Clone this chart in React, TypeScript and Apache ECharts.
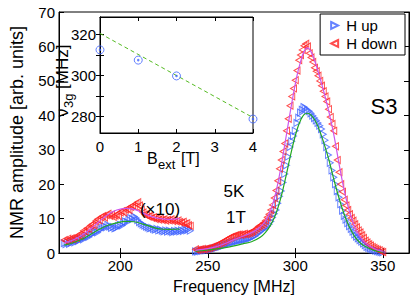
import React, { useEffect, useRef } from "react";
import * as echarts from "echarts";

// ---------- main panel data ----------
const freqLeft = [
  168, 169, 170, 171, 172, 173, 174, 175, 176, 177, 178, 179, 180, 181, 182, 183, 184, 185, 186, 187,
  188, 189, 190, 191, 192, 193, 194, 195, 196, 197, 198, 199, 200, 201, 202, 203, 204, 205, 206, 207,
  208, 209, 210, 211, 212, 213, 214, 215, 216, 217, 218, 219, 220, 221, 222, 223, 224, 225, 226, 227,
  228, 229, 230, 231, 232, 233, 234, 235, 236, 237, 238, 239, 240,
];
const downLeft = [
  3.8, 3.5, 4.2, 3.9, 4.3, 4.0, 4.6, 4.4, 5.2, 5.0, 5.8, 6.5, 6.2, 7.2, 7.0, 8.0, 8.4, 8.0, 9.3, 9.8,
  9.5, 10.4, 10.8, 10.3, 11.0, 11.4, 10.8, 11.2, 10.5, 10.9, 11.3, 10.8, 11.8, 12.2, 11.8, 12.6, 12.9, 12.5, 13.4, 13.8,
  13.5, 14.3, 14.8, 13.8, 12.6, 11.8, 11.2, 11.0, 10.6, 10.8, 10.2, 10.4, 9.9, 10.1, 9.7, 10.0, 9.6, 9.8, 9.4, 9.7,
  9.5, 9.8, 9.3, 9.6, 9.2, 9.5, 9.0, 8.8, 9.1, 8.5, 8.7, 8.1, 7.9,
];
const upLeft = [
  2.9, 2.6, 3.1, 2.7, 3.0, 3.3, 3.1, 3.6, 3.5, 3.9, 4.2, 4.0, 4.6, 4.9, 4.7, 5.3, 5.5, 5.9, 6.2, 6.0,
  6.6, 7.0, 7.3, 7.8, 7.5, 8.2, 7.7, 7.3, 7.6, 7.2, 7.4, 7.8, 8.2, 8.0, 8.7, 9.2, 9.0, 9.7, 10.2, 9.9,
  10.6, 10.2, 9.6, 9.0, 8.6, 8.3, 8.0, 7.7, 7.5, 7.2, 7.3, 7.0, 6.8, 7.0, 6.6, 6.8, 6.5, 6.3, 6.6, 6.2,
  6.5, 6.3, 6.1, 6.4, 6.2, 6.5, 6.3, 6.6, 6.4, 6.8, 6.6, 6.9, 6.5,
];
const freqRight = [
  243, 244, 245, 246, 247, 248, 249, 250, 251, 252, 253, 254, 255, 256, 257, 258, 259, 260, 261, 262,
  263, 264, 265, 266, 267, 268, 269, 270, 271, 272, 273, 274, 275, 276, 277, 278, 279, 280, 281, 282,
  283, 284, 285, 286, 287, 288, 289, 290, 291, 292, 293, 294, 295, 296, 297, 298, 299, 300, 301, 302,
  303, 304, 305, 306, 307, 308, 309, 310, 311, 312, 313, 314, 315, 316, 317, 318, 319, 320, 321, 322,
  323, 324, 325, 326, 327, 328, 329, 330, 331, 332, 333, 334, 335, 336, 337, 338, 339, 340, 341, 342,
  343, 344, 345, 346, 347, 348, 349, 350,
];
const downRight = [
  1.1, 0.9, 1.0, 1.1, 1.2, 1.1, 1.3, 1.4, 1.5, 1.7,
  1.9, 2.1, 2.3, 2.6, 2.9, 3.1, 3.4, 3.7, 4.0, 4.3,
  4.6, 4.8, 5.0, 5.2, 5.3, 5.4, 5.3, 5.5, 5.6, 5.5,
  5.7, 5.9, 6.1, 6.4, 6.8, 7.2, 7.7, 8.0, 8.3, 8.8,
  9.5, 10.4, 11.3, 12.5, 14.0, 16.0, 18.2, 21.0, 24.5, 27.0,
  29.5, 31.8, 35.5, 39.0, 42.8, 45.5, 47.8, 50.2, 53.0, 56.0,
  57.5, 59.0, 60.2, 60.8, 60.0, 58.0, 56.8, 55.5, 53.8, 52.8,
  51.5, 50.0, 48.6, 47.0, 45.5, 44.0, 41.8, 39.5, 37.5, 35.5,
  31.0, 27.0, 23.5, 20.0, 17.8, 15.5, 13.8, 12.5, 11.3, 10.2,
  9.4, 8.4, 7.5, 6.6, 6.0, 5.2, 4.4, 3.6, 3.1, 2.6,
  2.2, 1.8, 1.5, 1.2, 1.0, 0.8, 0.5, 0.3,
];
const upRight = [
  0.5, 0.4, 0.6, 0.6, 0.7, 0.8, 0.8, 0.9, 1.0, 1.1,
  1.2, 1.4, 1.5, 1.7, 1.8, 2.0, 2.2, 2.4, 2.6, 2.8,
  2.9, 3.1, 3.2, 3.3, 3.5, 3.6, 3.7, 3.8, 3.9, 4.0,
  4.2, 4.3, 4.5, 4.8, 5.0, 5.4, 5.8, 6.2, 6.6, 7.0,
  7.4, 7.8, 8.4, 9.2, 10.3, 11.4, 12.5, 14.5, 16.5, 18.0,
  20.5, 23.0, 25.5, 28.0, 30.8, 32.5, 34.0, 35.5, 37.8, 39.3,
  40.8, 41.6, 42.4, 42.0, 41.5, 41.2, 40.6, 39.9, 39.2, 38.5,
  37.8, 37.0, 36.0, 34.5, 32.8, 30.8, 28.5, 26.2, 24.0, 22.0,
  20.0, 18.0, 16.2, 14.2, 12.3, 10.8, 9.7, 8.7, 7.8, 7.0,
  6.2, 5.4, 4.8, 4.3, 3.8, 3.3, 2.8, 2.3, 1.8, 1.5,
  1.3, 1.1, 0.9, 0.7, 0.6, 0.4, 0.3, 0.2,
];

// fit curves
const fitLeftF = [168, 173, 178, 183, 188, 193, 198, 203, 208, 213, 218, 223, 228, 234];
const fitUpLeft = [2.3, 3.0, 4.0, 5.4, 6.9, 8.1, 8.8, 9.2, 9.1, 8.4, 7.6, 7.0, 6.9, 7.0];
const fitDownLeft = [3.0, 3.8, 5.2, 7.0, 9.2, 11.2, 12.5, 13.0, 12.7, 11.6, 10.6, 10.0, 9.8, 10.0];
const fitRightF = [
  243, 246, 250, 255, 260, 265, 270, 275, 280, 283, 286, 289, 292, 295, 298, 301, 303, 305, 307,
  309, 311, 313, 316, 319, 322, 325, 328, 331, 334, 337, 340, 345, 350,
];
const fitUpRight = [
  0.5, 0.7, 0.9, 1.2, 1.6, 2.1, 2.7, 3.3, 4.6, 6.0, 8.2, 11.5, 16.5, 23, 30, 35.8, 38.5, 40.2, 40.6,
  40.1, 38.8, 36.8, 32.5, 27.5, 21.5, 16, 11.2, 7.5, 4.8, 3.0, 1.9, 0.8, 0.3,
];
const fitDownRight = [
  0.8, 1.0, 1.3, 1.9, 2.8, 3.9, 4.9, 5.9, 7.6, 9.4, 12.5, 17.8, 25.5, 34.5, 43.5, 51.5, 55.5, 58.5, 59.6,
  58.5, 56, 52.8, 47.5, 41.5, 34.5, 26, 18.2, 12, 7.6, 4.8, 3.0, 1.3, 0.5,
];
const mainXTicks = [200, 250, 300, 350];

// ---------- inset data ----------
const bField = [0, 1, 2, 4];
const nu3g = [312.5, 307.5, 299.8, 278.8];
const fitB = [0, 4];
const fitNu = [320.5, 279.5];
const insetYTicks = [280, 290, 300, 310, 320];
const insetYLabels = [280, 300, 320];

const pairs = (xs: number[], ys: number[]) => xs.map((x, i) => [x, ys[i]]);

const FONT = "Liberation Sans, Arial, Helvetica, sans-serif";
const BLUE = "#3f63ff";
const RED = "#ff2020";
const GREEN = "#22a822";
const MAGENTA = "#cc55ee";
const RIGHT_TRI = "path://M0,0L8,4L0,8Z";
const LEFT_TRI = "path://M8,0L0,4L8,8Z";

const txt = (text: string, x: number, y: number, fontSize: number, align = "center") => ({
  type: "text",
  x,
  y,
  z: 10,
  style: {
    text,
    fontSize,
    fontFamily: FONT,
    fill: "#000",
    align,
    verticalAlign: "middle",
    textAlign: align,
    textVerticalAlign: "middle",
  },
});

export default function App() {
  const ref = useRef<HTMLDivElement>(null);
  useEffect(() => {
    if (!ref.current) return;
    const chart = echarts.init(ref.current, undefined, { renderer: "svg" });
    const tickStyle = { lineStyle: { color: "#000", width: 1 } };
    const lbl = { color: "#000", fontSize: 15, fontFamily: FONT };
    const mainX = (pos: "bottom" | "top", labels: boolean) => ({
      type: "value",
      gridIndex: 0,
      position: pos,
      min: 165,
      max: 365,
      axisLine: { show: true, lineStyle: { color: "#000" } },
      axisTick: { show: true, inside: true, length: 5, customValues: mainXTicks, ...tickStyle },
      axisLabel: { show: labels, customValues: mainXTicks, margin: 5, ...lbl },
      splitLine: { show: false },
      ...(labels
        ? {
            name: "Frequency [MHz]",
            nameLocation: "middle",
            nameGap: 24,
            nameTextStyle: { color: "#000", fontSize: 16, fontFamily: FONT },
          }
        : {}),
    });
    const mainY = (pos: "left" | "right", labels: boolean) => ({
      type: "value",
      gridIndex: 0,
      position: pos,
      min: 0,
      max: 70,
      interval: 10,
      axisLine: { show: true, lineStyle: { color: "#000" } },
      axisTick: { show: true, inside: true, length: 5, ...tickStyle },
      axisLabel: { show: labels, margin: 4, ...lbl },
      splitLine: { show: false },
      ...(labels
        ? {
            name: "NMR amplitude [arb. units]",
            nameLocation: "middle",
            nameGap: 33,
            nameTextStyle: { color: "#000", fontSize: 18, fontFamily: FONT },
          }
        : {}),
    });
    const insetX = (pos: "bottom" | "top", labels: boolean) => ({
      type: "value",
      gridIndex: 1,
      position: pos,
      min: 0,
      max: 4,
      interval: 1,
      z: 6,
      axisLine: { show: true, lineStyle: { color: "#000" } },
      axisTick: { show: true, inside: true, length: 4, ...tickStyle },
      axisLabel: { show: labels, margin: 6, ...lbl },
      splitLine: { show: false },
    });
    const insetY = (pos: "left" | "right", labels: boolean) => ({
      type: "value",
      gridIndex: 1,
      position: pos,
      min: 272,
      max: 328.5,
      z: 6,
      axisLine: { show: true, lineStyle: { color: "#000" } },
      axisTick: { show: true, inside: true, length: 4, customValues: insetYTicks, ...tickStyle },
      axisLabel: { show: labels, customValues: insetYLabels, margin: 4, ...lbl },
      splitLine: { show: false },
    });
    const scatterStyle = (c: string) => ({
      color: "rgba(0,0,0,0)",
      borderColor: c,
      borderWidth: 1,
    });
    const fitLine = (name: string, xs: number[], ys: number[], c: string) => ({
      type: "line",
      name,
      xAxisIndex: 0,
      yAxisIndex: 0,
      data: pairs(xs, ys),
      smooth: 0.4,
      showSymbol: false,
      symbol: "none",
      lineStyle: { color: c, width: 1.2 },
      z: 4,
    });
    const option: any = {
      animation: false,
      backgroundColor: "#fff",
      textStyle: { fontFamily: FONT },
      grid: [
        { left: 45, top: 12, right: 6, bottom: 38, show: true, borderColor: "#000", borderWidth: 1, z: 0 },
        {
          left: 100,
          top: 17,
          width: 153,
          height: 116,
          show: true,
          borderColor: "#000",
          borderWidth: 1,
          backgroundColor: "#fff",
          z: 5,
        },
      ],
      xAxis: [mainX("bottom", true), mainX("top", false), insetX("bottom", true), insetX("top", false)],
      yAxis: [mainY("left", true), mainY("right", false), insetY("left", true), insetY("right", false)],
      legend: {
        data: ["H up", "H down"],
        orient: "vertical",
        right: 10,
        top: 14,
        itemWidth: 7,
        itemHeight: 8,
        itemGap: 3,
        padding: [4, 8, 4, 10],
        backgroundColor: "#fff",
        borderColor: "#000",
        borderWidth: 1,
        borderRadius: 0,
        textStyle: { color: "#000", fontSize: 15, fontFamily: FONT, padding: [0, 0, 0, 3] },
        z: 20,
      },
      series: [
        {
          type: "scatter",
          name: "H up",
          xAxisIndex: 0,
          yAxisIndex: 0,
          data: [...pairs(freqLeft, upLeft), ...pairs(freqRight, upRight)],
          symbol: RIGHT_TRI,
          symbolSize: [6, 7],
          itemStyle: scatterStyle(BLUE),
          z: 2,
        },
        {
          type: "scatter",
          name: "H down",
          xAxisIndex: 0,
          yAxisIndex: 0,
          data: [...pairs(freqLeft, downLeft), ...pairs(freqRight, downRight)],
          symbol: LEFT_TRI,
          symbolSize: [6, 7],
          itemStyle: scatterStyle(RED),
          z: 3,
        },
        fitLine("fitUpL", fitLeftF, fitUpLeft, GREEN),
        fitLine("fitUpR", fitRightF, fitUpRight, GREEN),
        fitLine("fitDownL", fitLeftF, fitDownLeft, MAGENTA),
        fitLine("fitDownR", fitRightF, fitDownRight, MAGENTA),
        {
          type: "line",
          name: "insetFit",
          xAxisIndex: 2,
          yAxisIndex: 2,
          data: pairs(fitB, fitNu),
          showSymbol: false,
          symbol: "none",
          lineStyle: { color: "#55bb22", width: 1, type: [4, 3] },
          z: 7,
        },
        {
          type: "scatter",
          name: "insetPts",
          xAxisIndex: 2,
          yAxisIndex: 2,
          data: pairs(bField, nu3g),
          symbol: "circle",
          symbolSize: 8,
          itemStyle: { color: "rgba(0,0,0,0)", borderColor: BLUE, borderWidth: 1 },
          z: 8,
        },
        {
          type: "scatter",
          name: "insetDots",
          xAxisIndex: 2,
          yAxisIndex: 2,
          data: pairs(bField, nu3g),
          symbol: "circle",
          symbolSize: 2.5,
          itemStyle: { color: BLUE },
          z: 8,
        },
      ],
      graphic: [
        txt("S3", 384, 106, 22),
        txt("5K", 234, 191, 17),
        txt("1T", 236, 217, 17),
        txt("(×10)", 160, 209, 17),
        {
          type: "group",
          x: 147,
          y: 158,
          z: 10,
          children: [
            { ...txt("B", 0, 0, 16, "left") },
            { ...txt("ext", 11, 6, 13, "left") },
            { ...txt("[T]", 34, 0, 16, "left") },
          ],
        },
        {
          type: "group",
          x: 62,
          y: 117,
          rotation: Math.PI / 2,
          z: 10,
          children: [
            { ...txt("ν", 0, 0, 17, "left") },
            { ...txt("3g", 9, 6, 13, "left") },
            { ...txt("[MHz]", 28, 0, 17, "left") },
          ],
        },
      ],
    };
    chart.setOption(option);
    return () => chart.dispose();
  }, []);
  return <div ref={ref} style={{ position: "absolute", left: 0, top: 0, width: 415, height: 299 }} />;
}
